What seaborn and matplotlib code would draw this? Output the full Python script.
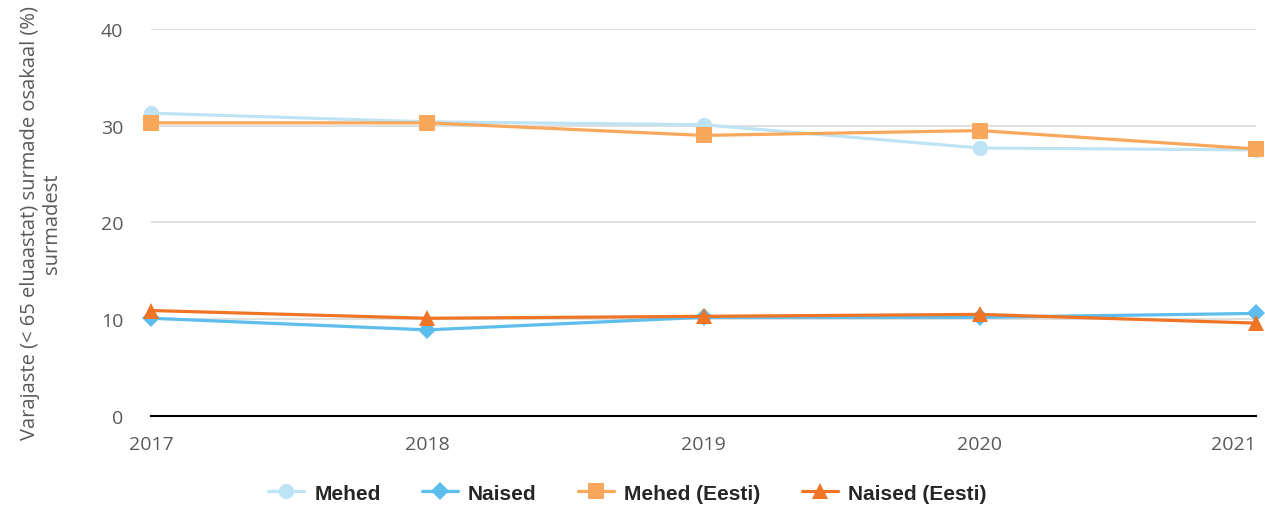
import matplotlib
matplotlib.use("Agg")
from matplotlib import pyplot as plt
import pandas as pd
import seaborn as sns

# Varajaste surmade osakaal, 2017-2021
years = [2017, 2018, 2019, 2020, 2021]
mehed = [31.3, 30.4, 30.1, 27.7, 27.5]
naised = [10.1, 8.9, 10.2, 10.2, 10.6]
mehed_eesti = [30.3, 30.3, 29.0, 29.5, 27.6]
naised_eesti = [10.9, 10.1, 10.3, 10.5, 9.6]
series = ["Mehed", "Naised", "Mehed (Eesti)", "Naised (Eesti)"]
yticks = [0, 10, 20, 30, 40]

rows = []
for name, vals in zip(series, [mehed, naised, mehed_eesti, naised_eesti]):
    for y, v in zip(years, vals):
        rows.append({"Aasta": y, "Osakaal": v, "Grupp": name})
df = pd.DataFrame(rows)

sns.set_style("white")
plt.rcParams['font.family'] = ['Open Sans', 'DejaVu Sans']

colors = {"Mehed": "#BEE3F5", "Naised": "#5DBDEC",
          "Mehed (Eesti)": "#F9A75B", "Naised (Eesti)": "#EF7426"}
markers = {"Mehed": "o", "Naised": "D", "Mehed (Eesti)": "s", "Naised (Eesti)": "^"}
msizes = {"Mehed": 11, "Naised": 9, "Mehed (Eesti)": 11, "Naised (Eesti)": 11}

fig = plt.figure(figsize=(12.65, 5.1), dpi=100)
ax = fig.add_axes([0.1194, 0.1824, 0.8735, 0.7588])

sns.lineplot(data=df, x="Aasta", y="Osakaal", hue="Grupp", style="Grupp",
             palette=colors, markers=markers, dashes=False, linewidth=2.3,
             markeredgewidth=0, ax=ax, legend=False)
for line, name in zip(ax.lines, series):
    line.set_markersize(msizes[name])
    line.set_clip_on(False)

ax.set_xlim(2017, 2021)
ax.set_ylim(0, 40)
ax.set_xticks(years)
ax.set_xticklabels([str(y) for y in years])
ax.get_xticklabels()[-1].set_horizontalalignment("right")
ax.set_yticks(yticks)
ax.grid(axis="y", color="#D9D9D9", linewidth=1.2)
ax.set_axisbelow(True)
for s in ["top", "right", "left"]:
    ax.spines[s].set_visible(False)
ax.spines["bottom"].set_color("#000000")
ax.spines["bottom"].set_linewidth(1.5)
ax.spines["bottom"].set_zorder(1)
ax.tick_params(axis="both", length=0, labelsize=14, labelcolor="#595959")
ax.tick_params(axis="x", pad=14)
ax.tick_params(axis="y", pad=20)
ax.set_xlabel("")
ax.set_ylabel("Varajaste (< 65 eluaastat) surmade osakaal (%)\nsurmadest",
              fontsize=14.5, color="#595959", linespacing=1.1)
ax.yaxis.set_label_coords(-0.081, 0.5)

handles = [plt.Line2D([], [], color=colors[n], marker=markers[n], linewidth=2.3,
                      markersize=msizes[n], markeredgewidth=0) for n in series]
fig.legend(handles, series, loc="center", bbox_to_anchor=(0.496, 0.031), ncol=4,
           frameon=False, handlelength=1.7, handletextpad=0.5, columnspacing=2.0,
           prop={"family": ["Liberation Sans", "DejaVu Sans"],
                 "weight": "bold", "size": 15}, labelcolor="#262626")

fig.savefig("out.png", dpi=100)
